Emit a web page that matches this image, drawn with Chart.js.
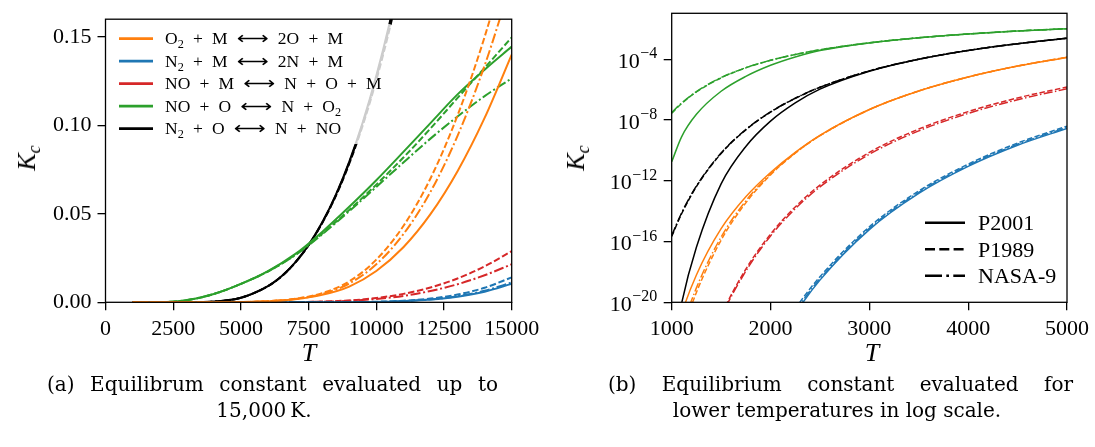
<!DOCTYPE html>
<html><head><meta charset="utf-8">
<title>Equilibrium constants</title>
<script src="https://cdn.jsdelivr.net/npm/chart.js@4.4.1/dist/chart.umd.min.js"></script>
<style>
html,body{margin:0;padding:0;background:#fff;}
body{width:1095px;height:447px;position:relative;overflow:hidden;font-family:"Liberation Serif","Times New Roman",serif;color:#000;}
canvas{position:absolute;top:0;}
#cA{left:0;} #cB{left:560px;}
.ytitle{position:absolute;font-size:26px;font-style:italic;white-space:nowrap;transform:translate(-50%,-50%) rotate(-90deg);line-height:1;}
.ytitle sub{font-size:18px;vertical-align:-5px;line-height:0;}
.xtitle{position:absolute;font-size:26px;font-style:italic;transform:translate(-50%,-50%);line-height:1;}
.cap{position:absolute;font-family:"DejaVu Serif",serif;font-size:20px;line-height:26px;white-space:nowrap;}
.c{transform:translateX(-50%);}
</style></head>
<body>
<canvas id="cA" width="560" height="447"></canvas>
<canvas id="cB" width="535" height="447"></canvas>
<div class="ytitle" style="left:27px;top:158px">K<sub>c</sub></div>
<div class="ytitle" style="left:576px;top:158px">K<sub>c</sub></div>
<div class="xtitle" style="left:309px;top:353px">T</div>
<div class="xtitle" style="left:872px;top:353px">T</div>
<div class="cap" data-w="451" style="left:47px;top:371px">(a) Equilibrum constant evaluated up to</div>
<div class="cap c" style="left:264px;top:397px">15,000&#8201;K.</div>
<div class="cap" data-w="465" style="left:608px;top:371px">(b) Equilibrium constant evaluated for</div>
<div class="cap c" style="left:837px;top:397px">lower temperatures in log scale.</div>
<script>
// ---------------- Data ----------------
const colors = { O2:'#ff7f0e', N2:'#1f77b4', NO:'#d62728', NOO:'#2ca02c', N2O:'#000000' };
const reactionLabels = ['O_2 + M ⟷ 2O + M','N_2 + M ⟷ 2N + M','NO + M ⟷ N + O + M','NO + O ⟷ N + O_2','N_2 + O ⟷ N + NO'];
const modelLabels = ['P2001','P1989','NASA-9'];

// Panel (a): temperatures and Kc (linear scale)
const T_a = [1000,2000,3000,4000,5000,6000,7000,8000,9000,10000,11000,12000,13000,14000,15000];
const T_a_N2O = [1000,2000,3000,4000,5000,6000,6500,7000,7500,8000,8500,9000,9500,10000,10500,11000,11500];

const O2_P2001_a  = [0, 3.5e-12, 5.0e-8, 6.9e-6, 1.35e-4, 0.00060, 0.00170, 0.0042, 0.0089, 0.0177, 0.0311, 0.0498, 0.0741, 0.1042, 0.140];
const O2_P1989_a  = [0, 2.5e-12, 4.9e-8, 6.9e-6, 1.40e-4, 0.00066, 0.00195, 0.0052, 0.0118, 0.0241, 0.0431, 0.0700, 0.1056, 0.1500, 0.2035];
const O2_NASA9_a  = [0, 2.8e-12, 4.9e-8, 6.9e-6, 1.40e-4, 0.00064, 0.00185, 0.0047, 0.0106, 0.0215, 0.0385, 0.0624, 0.0941, 0.1338, 0.1815];

const N2_P2001_a  = [0, 0, 6.0e-16, 8.9e-12, 2.8e-9, 1.3e-7, 2.0e-6, 1.5e-5, 6.5e-5, 0.000225, 0.00064, 0.00153, 0.0032, 0.0060, 0.0104];
const N2_P1989_a  = [0, 0, 9.0e-16, 1.3e-11, 4.0e-9, 1.8e-7, 2.8e-6, 2.1e-5, 9.0e-5, 0.00031, 0.00090, 0.00212, 0.0044, 0.0082, 0.0141];
const N2_NASA9_a  = [0, 0, 7.0e-16, 1.0e-11, 3.2e-9, 1.4e-7, 2.2e-6, 1.6e-5, 7.0e-5, 0.00024, 0.00069, 0.00165, 0.00345, 0.0065, 0.0112];

const NO_P1989_a  = [0, 3.0e-16, 7.4e-11, 3.6e-8, 1.5e-6, 1.8e-5, 1.06e-4, 0.00040, 0.00106, 0.00242, 0.00476, 0.00837, 0.01348, 0.0203, 0.0289];
const NO_NASA9_a  = [0, 2.3e-16, 5.6e-11, 2.7e-8, 1.15e-6, 1.4e-5, 8.2e-5, 0.00031, 0.00083, 0.0019, 0.0036, 0.0064, 0.0102, 0.0153, 0.0215];

const NOO_P2001_a = [1.8e-11, 4.0e-5, 0.00120, 0.0047, 0.0104, 0.0176, 0.0272, 0.0398, 0.0540, 0.0690, 0.0850, 0.1013, 0.1175, 0.1315, 0.1445];
const NOO_P1989_a = [2.8e-8, 8.7e-5, 0.00123, 0.0047, 0.0104, 0.0175, 0.0268, 0.0388, 0.0522, 0.0665, 0.0818, 0.0982, 0.1155, 0.1325, 0.1497];
const NOO_NASA9_a = [3.0e-8, 8.8e-5, 0.00124, 0.0047, 0.0104, 0.0174, 0.0266, 0.0384, 0.0515, 0.0652, 0.0790, 0.0925, 0.1050, 0.1165, 0.1266];

const N2O_P2001_a = [3e-23, 3.5e-9, 1.6e-5, 0.000408, 0.00258, 0.00916, 0.01468, 0.02246, 0.03246, 0.0451, 0.0606, 0.0794, 0.1017, 0.1280, 0.1585, 0.1935, 0.2333];
const N2O_P1989_a = [2.2e-16, 3.4e-8, 1.74e-5, 0.000408, 0.00258, 0.00912, 0.01460, 0.02232, 0.03222, 0.0447, 0.0599, 0.0783, 0.1000, 0.1255, 0.1550, 0.1890, 0.2275];
const N2O_NASA9_a = [2.5e-16, 3.5e-8, 1.75e-5, 0.000408, 0.00258, 0.00914, 0.01464, 0.02240, 0.03234, 0.0449, 0.0603, 0.0789, 0.1009, 0.1268, 0.1568, 0.1912, 0.2304];

// Panel (b): temperatures and log10(Kc)
const T_b = [1000,1100,1250,1500,1750,2000,2250,2500,3000,3500,4000,4500,5000];
const O2_P2001_b  = [-23.5, -20.8, -18.2, -15.15, -13.05, -11.45, -10.12, -9.00, -7.30, -6.08, -5.16, -4.44, -3.87];
const O2_P1989_b  = [-24.51, -22.16, -19.35, -15.91, -13.45, -11.61, -10.18, -9.03, -7.31, -6.08, -5.16, -4.44, -3.86];
const O2_NASA9_b  = [-24.1, -21.8, -19.05, -15.7, -13.32, -11.55, -10.16, -9.02, -7.31, -6.08, -5.16, -4.44, -3.86];
const N2_P2001_b  = [-48.5, -44.0, -38.5, -31.87, -27.11, -23.54, -20.76, -18.54, -15.21, -12.83, -11.05, -9.66, -8.55];
const N2_P1989_b  = [-48.2, -43.7, -38.2, -31.6, -26.85, -23.3, -20.45, -18.32, -15.03, -12.67, -10.90, -9.51, -8.40];
const N2_NASA9_b  = [-48.4, -43.9, -38.4, -31.75, -27.0, -23.43, -20.62, -18.45, -15.13, -12.76, -10.98, -9.59, -8.48];
const NO_P1989_b  = [-31.66, -28.72, -25.2, -20.89, -17.82, -15.51, -13.72, -12.28, -10.13, -8.59, -7.44, -6.54, -5.82];
const NO_NASA9_b  = [-31.8, -28.85, -25.33, -21.0, -17.95, -15.63, -13.84, -12.40, -10.25, -8.71, -7.56, -6.66, -5.94];
const NOO_P2001_b = [-10.75, -9.10, -7.62, -6.10, -5.12, -4.39, -3.84, -3.42, -2.915, -2.576, -2.33, -2.134, -1.98];
const NOO_P1989_b = [-7.54, -6.91, -6.15, -5.22, -4.56, -4.065, -3.68, -3.37, -2.907, -2.576, -2.33, -2.134, -1.98];
const NOO_NASA9_b = [-7.50, -6.88, -6.12, -5.20, -4.55, -4.06, -3.68, -3.37, -2.91, -2.58, -2.33, -2.135, -1.985];
const N2O_P2001_b = [-23.7, -20.07, -16.38, -12.2, -9.74, -8.07, -6.87, -5.96, -4.78, -3.99, -3.41, -2.97, -2.61];
const N2O_P1989_b = [-15.66, -14.17, -12.38, -10.20, -8.64, -7.47, -6.57, -5.84, -4.76, -3.99, -3.41, -2.97, -2.61];
const N2O_NASA9_b = [-15.60, -14.12, -12.34, -10.17, -8.62, -7.46, -6.56, -5.84, -4.76, -3.99, -3.41, -2.97, -2.61];

// Ticks
const xTicks_a = [0,2500,5000,7500,10000,12500,15000];
const yTicks_a = [0,0.05,0.10,0.15];
const yTickLabels_a = ['0.00','0.05','0.10','0.15'];
const xTicks_b = [1000,2000,3000,4000,5000];
const yTickExp_b = [-20,-16,-12,-8,-4];

// ---------------- Helpers ----------------
const FONT = '"Liberation Serif", "Times New Roman", serif';
const ARROW_FONT = '"DejaVu Sans", sans-serif';
const TICK_FONT = 22;
const ARROW_W = 32;
function tokenWidth(ctx, tok, size){
  if (tok === '⟷') return ARROW_W;
  const parts = tok.split(/(_\w)/); let w = 0;
  for (const p of parts){
    if (!p) continue;
    if (p[0]==='_' && p.length===2){ ctx.font = (size*0.7)+'px '+FONT; w += ctx.measureText(p[1]).width; }
    else { ctx.font = size+'px '+FONT; w += ctx.measureText(p).width; }
  }
  return w;
}
function drawToken(ctx, tok, x, y, size){
  if (tok === '⟷'){
    ctx.font = size+'px '+ARROW_FONT;
    const w0 = ctx.measureText(tok).width;
    ctx.save(); ctx.translate(x, y); ctx.scale(ARROW_W/w0, 1); ctx.fillText(tok, 0, 0); ctx.restore();
    return x + ARROW_W;
  }
  const parts = tok.split(/(_\w)/); let cx = x;
  for (const p of parts){
    if (!p) continue;
    if (p[0]==='_' && p.length===2){
      ctx.font = (size*0.7)+'px '+FONT; ctx.fillText(p[1], cx, y + size*0.22); cx += ctx.measureText(p[1]).width;
    } else {
      ctx.font = size+'px '+FONT; ctx.fillText(p, cx, y); cx += ctx.measureText(p).width;
    }
  }
  return cx;
}
function drawLabel(ctx, text, x, y, size, gap){
  ctx.textAlign='left'; ctx.textBaseline='alphabetic';
  let cx = x;
  text.split(' ').forEach((tok,i)=>{ if (i>0) cx += gap; cx = drawToken(ctx, tok, cx, y, size); });
}
function mk(xs, ys, color, dash, width, logv){
  return {
    data: xs.map((x,i)=>({x:x, y: logv ? Math.pow(10, ys[i]) : ys[i]})),
    borderColor: color, borderWidth: width, borderDash: dash,
    pointRadius: 0, fill: false, cubicInterpolationMode: 'monotone',
    clip: 0, borderCapStyle: 'butt', borderJoinStyle: 'round'
  };
}
const frame = { id:'frame', afterDraw(chart){
  const {ctx, chartArea:a} = chart; ctx.save();
  ctx.strokeStyle = '#000'; ctx.lineWidth = 1.3; ctx.setLineDash([]);
  ctx.strokeRect(a.left, a.top, a.right-a.left, a.bottom-a.top);
  ctx.restore();
}};
function tickAxis(extra){
  return Object.assign({
    grid:{ drawOnChartArea:false, drawTicks:true, tickLength:8, tickWidth:1.3, tickColor:'#000', color:'#000', lineWidth:1.3 },
    border:{ display:false }
  }, extra);
}

// ---------------- Panel (a) ----------------
const dA = [[],[6.5,2.7],[10,2.7,2,2.7]];
const LW_A = 2;
const dsA = [
  mk(T_a, O2_P2001_a, colors.O2, dA[0], LW_A), mk(T_a, O2_P1989_a, colors.O2, dA[1], LW_A), mk(T_a, O2_NASA9_a, colors.O2, dA[2], LW_A),
  mk(T_a, N2_P2001_a, colors.N2, dA[0], LW_A), mk(T_a, N2_P1989_a, colors.N2, dA[1], LW_A), mk(T_a, N2_NASA9_a, colors.N2, dA[2], LW_A),
  mk(T_a, NO_P1989_a, colors.NO, dA[1], LW_A), mk(T_a, NO_NASA9_a, colors.NO, dA[2], LW_A),
  mk(T_a, NOO_P2001_a, colors.NOO, dA[0], LW_A), mk(T_a, NOO_P1989_a, colors.NOO, dA[1], LW_A), mk(T_a, NOO_NASA9_a, colors.NOO, dA[2], LW_A),
  mk(T_a_N2O, N2O_P2001_a, colors.N2O, dA[0], LW_A), mk(T_a_N2O, N2O_P1989_a, colors.N2O, dA[1], LW_A), mk(T_a_N2O, N2O_NASA9_a, colors.N2O, dA[2], LW_A)
];
const legendA = { id:'legendA', afterDatasetsDraw(chart){
  const ctx = chart.ctx, a = chart.chartArea; ctx.save();
  ctx.fillStyle = 'rgba(255,255,255,0.8)';
  ctx.beginPath(); ctx.roundRect(a.left+5.5, a.top+4.7, 281, 120, 3); ctx.fill();
  const cols = [colors.O2, colors.N2, colors.NO, colors.NOO, colors.N2O];
  const size = 17.5;
  // spacing chosen so that the first label spans the same width as in the figure
  const toks = reactionLabels[0].split(' ');
  const tw = toks.reduce((s,t)=>s+tokenWidth(ctx,t,size),0);
  const gap = (178 - tw)/(toks.length-1);
  reactionLabels.forEach((lab,i)=>{
    const y = a.top + 19.4 + i*22.5;
    ctx.strokeStyle = cols[i]; ctx.lineWidth = 2.6; ctx.setLineDash([]);
    ctx.beginPath(); ctx.moveTo(a.left+13.5, y); ctx.lineTo(a.left+47.5, y); ctx.stroke();
    ctx.fillStyle = '#000'; drawLabel(ctx, lab, a.left+59.5, y+5.8, size, gap);
  });
  ctx.restore();
}};
new Chart(document.getElementById('cA'), {
  type:'line',
  data:{ datasets: dsA },
  options:{
    responsive:false, animation:false, devicePixelRatio:1, events:[],
    layout:{ padding:{ left:0, right:48.3, top:13.3, bottom:0 } },
    plugins:{ legend:{display:false}, tooltip:{enabled:false} },
    scales:{
      x: tickAxis({ type:'linear', min:0, max:15000,
        afterBuildTicks: s => { s.ticks = xTicks_a.map(v=>({value:v})); },
        afterFit: s => { s.height = 447-302.3; },
        ticks:{ callback: v => String(v), font:{family:FONT, size:TICK_FONT}, color:'#000', padding:6, maxRotation:0, autoSkip:false } }),
      y: tickAxis({ type:'linear', min:0, max:0.16,
        afterBuildTicks: s => { s.ticks = yTicks_a.map(v=>({value:v})); },
        afterFit: s => { s.width = 105.5; },
        ticks:{ callback: (v) => yTickLabels_a[yTicks_a.findIndex(t=>Math.abs(t-v)<1e-9)], font:{family:FONT, size:TICK_FONT}, color:'#000', padding:6, autoSkip:false } })
    }
  },
  plugins:[legendA, frame]
});

// ---------------- Panel (b) ----------------
const dB = [[],[5.5,2.4],[9,2.4,1.5,2.4]];
const LW_B = 1.5;
const dsB = [
  mk(T_b, O2_P2001_b, colors.O2, dB[0], LW_B, true), mk(T_b, O2_P1989_b, colors.O2, dB[1], LW_B, true), mk(T_b, O2_NASA9_b, colors.O2, dB[2], LW_B, true),
  mk(T_b, N2_P2001_b, colors.N2, dB[0], LW_B, true), mk(T_b, N2_P1989_b, colors.N2, dB[1], LW_B, true), mk(T_b, N2_NASA9_b, colors.N2, dB[2], LW_B, true),
  mk(T_b, NO_P1989_b, colors.NO, dB[1], LW_B, true), mk(T_b, NO_NASA9_b, colors.NO, dB[2], LW_B, true),
  mk(T_b, NOO_P2001_b, colors.NOO, dB[0], LW_B, true), mk(T_b, NOO_P1989_b, colors.NOO, dB[1], LW_B, true), mk(T_b, NOO_NASA9_b, colors.NOO, dB[2], LW_B, true),
  mk(T_b, N2O_P2001_b, colors.N2O, dB[0], LW_B, true), mk(T_b, N2O_P1989_b, colors.N2O, dB[1], LW_B, true), mk(T_b, N2O_NASA9_b, colors.N2O, dB[2], LW_B, true)
];
const legendB = { id:'legendB', afterDatasetsDraw(chart){
  const ctx = chart.ctx, a = chart.chartArea; ctx.save();
  ctx.fillStyle = 'rgba(255,255,255,0.8)';
  ctx.beginPath(); ctx.roundRect(a.left+243, a.top+194, 150, 88, 3); ctx.fill();
  const dashes = [[],[10,4.3],[17,4.3,2.7,4.3]];
  modelLabels.forEach((lab,i)=>{
    const y = a.top + 209.4 + i*26.5;
    ctx.strokeStyle = '#000'; ctx.lineWidth = 2.6; ctx.setLineDash(dashes[i]);
    ctx.beginPath(); ctx.moveTo(a.left+253.3, y); ctx.lineTo(a.left+293.3, y); ctx.stroke();
    ctx.setLineDash([]);
    ctx.fillStyle = '#000'; ctx.font = '22px ' + FONT; ctx.textAlign='left'; ctx.textBaseline='alphabetic';
    ctx.fillText(lab, a.left+306.3, y+7.5);
  });
  ctx.restore();
}};
const logLabels = { id:'logLabels', afterDraw(chart){
  const ctx = chart.ctx, s = chart.scales.y, a = chart.chartArea; ctx.save();
  ctx.fillStyle = '#000'; ctx.textAlign = 'right'; ctx.textBaseline = 'alphabetic';
  yTickExp_b.forEach(e=>{
    const y = s.getPixelForValue(Math.pow(10, e));
    const xr = a.left - 8 - 6.5;
    const ex = (e < 0 ? '\u2212' : '') + Math.abs(e);
    ctx.font = '16px ' + FONT;
    const we = ctx.measureText(ex).width;
    ctx.fillText(ex, xr, y - 1);
    ctx.font = TICK_FONT + 'px ' + FONT;
    ctx.fillText('10', xr - we - 0.5, y + 8.5);
  });
  ctx.restore();
}};
new Chart(document.getElementById('cB'), {
  type:'line',
  data:{ datasets: dsB },
  options:{
    responsive:false, animation:false, devicePixelRatio:1, events:[],
    layout:{ padding:{ left:0, right:22.5, top:13.3, bottom:0 } },
    plugins:{ legend:{display:false}, tooltip:{enabled:false} },
    scales:{
      x: tickAxis({ type:'linear', min:1000, max:5000,
        afterBuildTicks: s => { s.ticks = xTicks_b.map(v=>({value:v})); },
        afterFit: s => { s.height = 447-302.3; },
        ticks:{ callback: v => String(v), font:{family:FONT, size:TICK_FONT}, color:'#000', padding:6, maxRotation:0, autoSkip:false } }),
      y: tickAxis({ type:'logarithmic', min:1e-20, max:0.108,
        afterBuildTicks: s => { s.ticks = yTickExp_b.map(e=>({value:Math.pow(10,e)})); },
        afterFit: s => { s.width = 111.7; },
        ticks:{ callback: () => '', autoSkip:false } })
    }
  },
  plugins:[legendB, logLabels, frame]
});

// ---------------- Caption justification (first lines are justified) ----------------
document.querySelectorAll('.cap[data-w]').forEach(el=>{
  const target = +el.dataset.w;
  const w = el.getBoundingClientRect().width;
  const spaces = (el.textContent.match(/ /g)||[]).length;
  el.style.wordSpacing = ((target - w)/spaces) + 'px';
});
</script>
</body></html>
